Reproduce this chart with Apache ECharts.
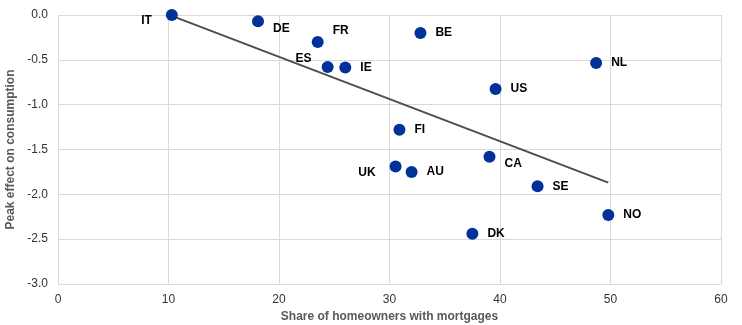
<!DOCTYPE html>
<html><head><meta charset="utf-8">
<script src="https://cdn.jsdelivr.net/npm/echarts@6/dist/echarts.min.js"></script>
<style>html,body{margin:0;padding:0;background:#fff}#c{width:742px;height:325px}</style>
</head><body><div id="c"></div>
<script>
const countries = ['IT','DE','FR','ES','IE','BE','NL','US','FI','CA','UK','AU','SE','NO','DK'];
const shareMortgages = [10.3,18.1,23.5,24.4,26.0,32.8,48.7,39.6,30.9,39.05,30.55,32.0,43.4,49.8,37.5];
const peakEffect = [0.0,-0.07,-0.30,-0.58,-0.585,-0.20,-0.535,-0.825,-1.28,-1.58,-1.69,-1.75,-1.91,-2.23,-2.44];
const labelPos = ['left','bottomRight','topRight','topLeft','right','right','right','right','right','bottomRight','left','right','right','right','right'];
const trendX = [10.3, 49.8];
const trendY = [-0.01, -1.87];

const posMap = {
  left: {position:'left', distance:10, offset:[-4,6]},
  right: {position:'right', distance:9},
  bottomRight: {position:'right', distance:9, offset:[0,7]},
  topRight: {position:'right', distance:9, offset:[0,-11]},
  topLeft: {position:'left', distance:10, offset:[0,-8]}
};
const pts = countries.map((c,i)=>({
  value:[shareMortgages[i], peakEffect[i]], name:c,
  label: Object.assign({show:true, formatter:c}, posMap[labelPos[i]])
}));
const chart = echarts.init(document.getElementById('c'));
chart.setOption({
  animation:false,
  grid:{left:58, right:21, top:15, bottom:41, containLabel:false, outerBoundsMode:'none'},
  xAxis:{type:'value', min:0, max:60, interval:10,
    name:'Share of homeowners with mortgages', nameLocation:'middle', nameGap:27,
    nameTextStyle:{color:'#595959', fontWeight:'bold', fontSize:12, fontFamily:'Liberation Sans'},
    axisLine:{show:false}, axisTick:{show:false},
    axisLabel:{color:'#333', fontSize:12, fontFamily:'Liberation Sans', margin:10},
    splitLine:{lineStyle:{color:'#d9d9d9'}}},
  yAxis:{type:'value', min:-3, max:0, interval:0.5,
    name:'Peak effect on consumption', nameLocation:'middle', nameGap:33,
    nameTextStyle:{color:'#595959', fontWeight:'bold', fontSize:12, fontFamily:'Liberation Sans'},
    axisLine:{show:false}, axisTick:{show:false},
    axisLabel:{color:'#333', fontSize:12, fontFamily:'Liberation Sans', margin:10, formatter:v=>v.toFixed(1)},
    splitLine:{lineStyle:{color:'#d9d9d9'}}},
  series:[
    {type:'line', data:trendX.map((x,i)=>[x,trendY[i]]), symbol:'none', silent:true,
     lineStyle:{color:'#4d4d4d', width:2}, z:1},
    {type:'scatter', data:pts, symbolSize:12, itemStyle:{color:'#003299', opacity:1}, z:2,
     label:{color:'#000', fontWeight:'bold', fontSize:12, fontFamily:'Liberation Sans'}}
  ]
});
</script></body></html>
